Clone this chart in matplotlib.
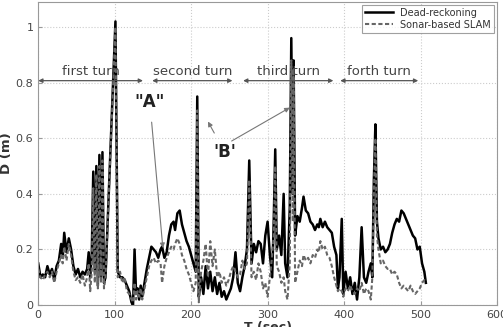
import numpy as np
import matplotlib
matplotlib.use("Agg")
import matplotlib.pyplot as plt

# time (sec), dead-reckoning error and sonar-based SLAM error (m)
t = [0, 3, 6, 9, 12, 15, 18, 21, 24, 27, 30, 32, 34, 37, 40, 43, 46, 49, 52, 55,
     58, 61, 64, 66, 68, 70, 72, 74, 76, 78, 80, 82, 84, 86, 88, 101, 104, 107, 110, 113,
     116, 119, 122, 124, 126, 128, 130, 132, 134, 136, 139, 142, 145, 148, 151, 154, 157, 160, 162, 165,
     168, 171, 174, 177, 179, 182, 185, 188, 191, 194, 197, 200, 203, 206, 208, 210, 213, 216, 219, 222,
     225, 228, 231, 234, 237, 240, 243, 246, 249, 252, 255, 258, 261, 264, 267, 270, 273, 276, 279, 282,
     285, 288, 291, 294, 297, 300, 303, 306, 308, 310, 312, 315, 318, 321, 323, 326, 329, 331, 333, 334,
     336, 339, 342, 345, 347, 350, 353, 356, 359, 362, 365, 367, 369, 372, 375, 378, 381, 384, 387, 390,
     392, 394, 397, 399, 402, 405, 408, 411, 414, 417, 420, 423, 426, 429, 432, 435, 437, 439, 441, 443,
     445, 448, 451, 454, 457, 460, 463, 466, 469, 472, 475, 478, 481, 484, 487, 490, 493, 496, 499, 502,
     505, 507]

dead_reckoning = [0.15, 0.10, 0.11, 0.10, 0.14, 0.11, 0.13, 0.09, 0.14, 0.16, 0.22, 0.17, 0.26, 0.19, 0.24, 0.20, 0.14, 0.11, 0.13, 0.10,
                  0.12, 0.11, 0.13, 0.19, 0.10, 0.18, 0.48, 0.12, 0.50, 0.07, 0.54, 0.10, 0.55, 0.08, 0.10, 1.02, 0.12, 0.10, 0.10, 0.09,
                  0.07, 0.05, 0.01, 0.00, 0.20, 0.04, 0.06, 0.02, 0.07, 0.03, 0.08, 0.13, 0.17, 0.21, 0.20, 0.19, 0.17, 0.20, 0.21, 0.17,
                  0.19, 0.25, 0.29, 0.30, 0.27, 0.33, 0.34, 0.29, 0.26, 0.23, 0.21, 0.18, 0.15, 0.12, 0.75, 0.03, 0.10, 0.04, 0.14, 0.06,
                  0.12, 0.05, 0.10, 0.04, 0.08, 0.03, 0.05, 0.02, 0.04, 0.06, 0.10, 0.19, 0.08, 0.05, 0.10, 0.14, 0.20, 0.52, 0.15, 0.22,
                  0.19, 0.23, 0.22, 0.15, 0.25, 0.30, 0.18, 0.10, 0.30, 0.56, 0.20, 0.25, 0.18, 0.40, 0.15, 0.10, 0.35, 0.96, 0.40, 0.88,
                  0.25, 0.32, 0.30, 0.35, 0.39, 0.34, 0.33, 0.30, 0.29, 0.27, 0.29, 0.28, 0.31, 0.28, 0.30, 0.28, 0.27, 0.26, 0.21, 0.18,
                  0.06, 0.10, 0.31, 0.04, 0.12, 0.06, 0.10, 0.04, 0.08, 0.02, 0.10, 0.28, 0.10, 0.08, 0.12, 0.15, 0.10, 0.45, 0.65, 0.30,
                  0.24, 0.20, 0.21, 0.19, 0.20, 0.22, 0.26, 0.29, 0.31, 0.30, 0.34, 0.33, 0.31, 0.29, 0.27, 0.25, 0.24, 0.20, 0.21, 0.15,
                  0.12, 0.08]

slam = [0.13, 0.10, 0.09, 0.11, 0.12, 0.10, 0.12, 0.08, 0.12, 0.15, 0.18, 0.15, 0.21, 0.16, 0.22, 0.18, 0.12, 0.09, 0.10, 0.08,
        0.11, 0.07, 0.10, 0.15, 0.05, 0.12, 0.42, 0.08, 0.47, 0.06, 0.50, 0.08, 0.52, 0.06, 0.10, 1.00, 0.10, 0.12, 0.08, 0.10,
        0.05, 0.04, 0.02, 0.01, 0.08, 0.02, 0.05, 0.03, 0.06, 0.02, 0.06, 0.10, 0.14, 0.16, 0.17, 0.15, 0.16, 0.15, 0.08, 0.14,
        0.17, 0.19, 0.21, 0.20, 0.22, 0.24, 0.22, 0.18, 0.16, 0.13, 0.11, 0.08, 0.05, 0.08, 0.70, 0.01, 0.12, 0.16, 0.22, 0.10,
        0.23, 0.14, 0.20, 0.10, 0.12, 0.08, 0.10, 0.07, 0.09, 0.12, 0.14, 0.12, 0.10, 0.11, 0.16, 0.13, 0.15, 0.45, 0.10, 0.12,
        0.09, 0.15, 0.12, 0.06, 0.08, 0.03, 0.10, 0.18, 0.25, 0.50, 0.14, 0.12, 0.08, 0.10, 0.05, 0.02, 0.15, 0.88, 0.30, 0.85,
        0.08, 0.12, 0.16, 0.14, 0.18, 0.16, 0.17, 0.15, 0.18, 0.17, 0.20, 0.19, 0.23, 0.20, 0.21, 0.18, 0.17, 0.14, 0.10, 0.07,
        0.05, 0.06, 0.05, 0.03, 0.06, 0.05, 0.07, 0.05, 0.04, 0.06, 0.05, 0.08, 0.04, 0.06, 0.05, 0.02, 0.10, 0.40, 0.60, 0.25,
        0.20, 0.15, 0.16, 0.14, 0.13, 0.13, 0.11, 0.12, 0.11, 0.08, 0.06, 0.07, 0.06, 0.05, 0.07, 0.05, 0.04, 0.05, 0.06, 0.08,
        0.09, 0.08]

turn_labels = ["first turn", "second turn", "third turn", "forth turn"]
turn_spans = [(0, 137), (149, 254), (268, 386), (395, 497)]

fig = plt.figure(figsize=(5.03, 3.27), dpi=100)
ax = fig.add_axes([0.076, 0.067, 0.912, 0.927])

gray = "#555555"
ax.plot(t, dead_reckoning, color="black", lw=1.8, label="Dead-reckoning")
ax.plot(t, slam, color="#666666", lw=1.5, ls=(0, (2, 1.2)), label="Sonar-based SLAM")

ax.set_xlim(0, 600)
ax.set_ylim(0, 1.09)
ax.set_xticks(range(0, 601, 100))
ax.set_yticks([0, 0.2, 0.4, 0.6, 0.8, 1.0])
ax.set_yticklabels(["0", "0.2", "0.4", "0.6", "0.8", "1"])
ax.tick_params(labelsize=8, labelcolor="#444444", color="#999999", length=3, direction="in")
ax.grid(True, color="#cccccc", ls=":", lw=0.8)
for s in ax.spines.values():
    s.set_color("#999999")

ax.set_xlabel("T (sec)", fontsize=9, fontweight="bold", color="#333333", labelpad=1)
ax.set_ylabel("D (m)", fontsize=9.5, fontweight="bold", color="#333333", labelpad=2)

# turn segments with double arrows
for lab, (a, b) in zip(turn_labels, turn_spans):
    ax.annotate("", xy=(a, 0.807), xytext=(b, 0.807),
                arrowprops=dict(arrowstyle="<|-|>", color=gray, lw=0.9,
                                mutation_scale=6, shrinkA=0, shrinkB=0))
    ax.text((a + b) / 2, 0.818, lab, ha="center", va="bottom", fontsize=9.5, color="#444444")

# A and B annotations
ax.annotate('"A"', xy=(163, 0.205), xytext=(146, 0.73), ha="center", va="center",
            fontsize=12, fontweight="bold", color="#222222",
            arrowprops=dict(arrowstyle="-|>", color="#777777", lw=0.8, mutation_scale=7,
                            shrinkA=6, shrinkB=0))
ax.annotate("'B'", xy=(222, 0.66), xytext=(244, 0.55), ha="center", va="center",
            fontsize=12, fontweight="bold", color="#222222",
            arrowprops=dict(arrowstyle="-|>", color="#777777", lw=0.8, mutation_scale=7,
                            shrinkA=6, shrinkB=0))
ax.annotate("", xy=(329, 0.71), xytext=(253, 0.59),
            arrowprops=dict(arrowstyle="-|>", color="#777777", lw=0.8, mutation_scale=7,
                            shrinkA=0, shrinkB=0))

leg = ax.legend(loc="upper right", fontsize=7, frameon=True, fancybox=False,
                borderpad=0.3, handlelength=2.8, labelspacing=0.2, borderaxespad=0.3)
leg.get_frame().set_edgecolor("#888888")
leg.get_frame().set_linewidth(0.8)
for txt in leg.get_texts():
    txt.set_color("#333333")

fig.savefig("out.png", dpi=100)
